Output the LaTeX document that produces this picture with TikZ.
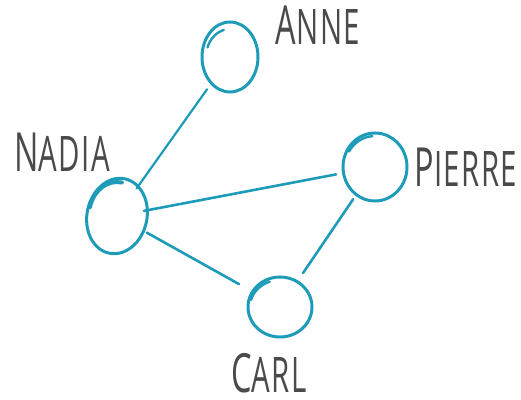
\documentclass[tikz,border=0pt]{standalone}
\usepackage{fontspec}
\setmainfont{Open Sans}
\usetikzlibrary{shapes.geometric}

\definecolor{ringteal}{HTML}{1E9BB8}
\definecolor{ink}{HTML}{4A4A4A}

% name in caps, first letter a bit larger
\newcommand{\pname}[2]{\scalebox{0.6}[1]{\addfontfeatures{LetterSpace=5}{\fontsize{54}{54}\selectfont #1}{\fontsize{49}{49}\selectfont #2}}}

\begin{document}
\begin{tikzpicture}[x=1pt, y=1pt,
    person/.style={ellipse, draw=ringteal, line width=3pt, inner sep=0pt},
    tie/.style={draw=ringteal, line width=2.6pt, line cap=round},
    stroke/.style={draw=ringteal, line width=2.4pt, line cap=round},
    caption/.style={text=ink, inner sep=0pt, anchor=base}]

  \useasboundingbox (0,0) rectangle (521,399);

  % People
  \node[person, minimum width=56, minimum height=70] (anne) at (230,342) {};
  \node[person, minimum width=60, minimum height=76, rotate=-12] (nadia) at (117,183) {};
  \node[person, minimum width=64, minimum height=68] (pierre) at (375,232) {};
  \node[person, minimum width=64, minimum height=60] (carl) at (280,92) {};

  % Sketchy overlap strokes
  \draw[stroke] (anne.center) ++(160:24 and 28) arc[start angle=160, end angle=105, x radius=24, y radius=28];
  \draw[stroke, line width=4pt] (nadia.center) ++(165:28 and 34) arc[start angle=165, end angle=80, x radius=28, y radius=34];
  \draw[stroke] (pierre.center) ++(150:30 and 31) arc[start angle=150, end angle=95, x radius=30, y radius=31];
  \draw[stroke] (carl.center) ++(165:30 and 27) arc[start angle=165, end angle=110, x radius=30, y radius=27];

  % Names
  \node[caption] (anneName) at (318,354) {\pname{A}{NNE}};
  \node[caption] (nadiaName) at (62,227) {\pname{N}{ADIA}};
  \node[caption] (pierreName) at (466,212) {\pname{P}{IERRE}};
  \node[caption] (carlName) at (269,7) {\pname{C}{ARL}};

  % Links
  \draw[tie, line width=2.2pt, shorten <=-4, shorten >=6] (nadia) -- (anne);
  \draw[tie, shorten <=-5, shorten >=6] (nadia) -- (pierre);
  \draw[tie, shorten <=2, shorten >=14] (nadia) -- (carl);
  \draw[tie, shorten <=4, shorten >=9] (pierre) -- (carl);

\end{tikzpicture}
\end{document}
